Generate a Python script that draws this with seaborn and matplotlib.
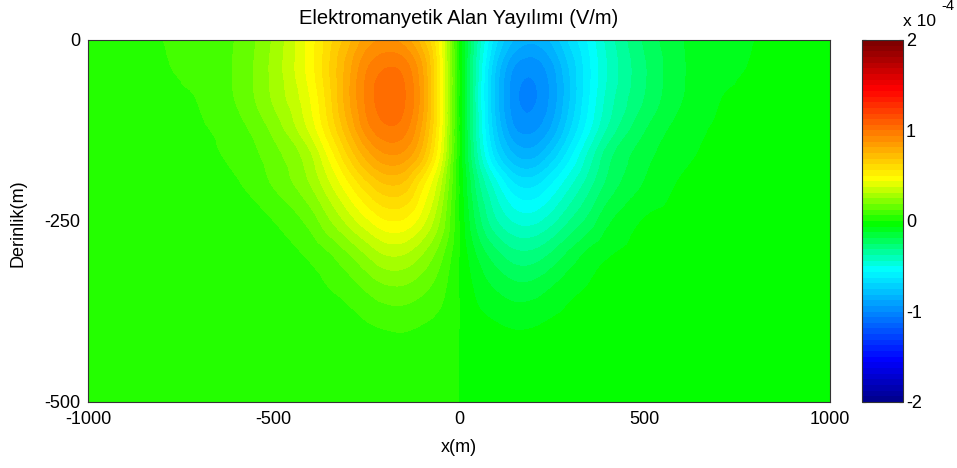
import numpy as np
import matplotlib
matplotlib.use("Agg")
import matplotlib.pyplot as plt
import matplotlib.tri as mtri
import seaborn as sns
from matplotlib.colors import ListedColormap

# ---------------- data (field values in units of 1e-4 V/m) ----------------
depth = [0, -40, -80, -120, -160, -200, -250, -300, -350, -400, -450, -500]

left_x = [-1000, -900, -800, -700, -600, -500, -400, -350, -300, -250, -200, -150, -100, -50, 0]
right_x = [0, 50, 100, 150, 200, 250, 300, 350, 400, 500, 600, 700, 800, 900, 1000]

# positive lobe (x <= 0), one row per depth
left_vals = [
    [0.030, 0.045, 0.062, 0.085, 0.130, 0.260, 0.470, 0.600, 0.720, 0.840, 0.880, 0.850, 0.710, 0.450, 0.0],
    [0.028, 0.042, 0.058, 0.080, 0.135, 0.270, 0.470, 0.620, 0.780, 0.930, 1.000, 0.980, 0.820, 0.480, 0.0],
    [0.025, 0.035, 0.048, 0.066, 0.130, 0.260, 0.440, 0.600, 0.790, 0.950, 1.040, 1.010, 0.840, 0.480, 0.0],
    [0.020, 0.028, 0.040, 0.055, 0.100, 0.210, 0.400, 0.560, 0.740, 0.910, 0.990, 0.970, 0.800, 0.470, 0.0],
    [0.015, 0.020, 0.030, 0.045, 0.080, 0.160, 0.300, 0.450, 0.620, 0.770, 0.860, 0.850, 0.710, 0.420, 0.0],
    [0.010, 0.015, 0.022, 0.035, 0.055, 0.130, 0.250, 0.360, 0.480, 0.600, 0.680, 0.670, 0.520, 0.320, 0.0],
    [0.008, 0.012, 0.016, 0.024, 0.038, 0.062, 0.150, 0.240, 0.330, 0.420, 0.490, 0.490, 0.400, 0.240, 0.0],
    [0.006, 0.008, 0.011, 0.016, 0.024, 0.038, 0.070, 0.110, 0.170, 0.240, 0.300, 0.300, 0.240, 0.140, 0.0],
    [0.004, 0.005, 0.007, 0.010, 0.014, 0.022, 0.038, 0.055, 0.080, 0.120, 0.155, 0.160, 0.130, 0.080, 0.0],
    [0.003, 0.004, 0.005, 0.006, 0.009, 0.013, 0.020, 0.028, 0.038, 0.050, 0.062, 0.066, 0.055, 0.035, 0.0],
    [0.002, 0.003, 0.004, 0.005, 0.006, 0.008, 0.012, 0.016, 0.020, 0.026, 0.032, 0.034, 0.028, 0.018, 0.0],
    [0.002, 0.002, 0.003, 0.004, 0.005, 0.006, 0.008, 0.010, 0.013, 0.016, 0.019, 0.020, 0.017, 0.011, 0.0],
]

# negative lobe (x >= 0), one row per depth
right_vals = [
    [0.0, -0.380, -0.670, -0.820, -0.860, -0.800, -0.670, -0.550, -0.420, -0.240, -0.130, -0.085, -0.062, -0.045, -0.030],
    [0.0, -0.420, -0.760, -0.950, -0.980, -0.900, -0.740, -0.580, -0.440, -0.260, -0.135, -0.080, -0.058, -0.042, -0.028],
    [0.0, -0.430, -0.780, -0.980, -1.010, -0.920, -0.750, -0.570, -0.420, -0.250, -0.130, -0.066, -0.048, -0.035, -0.025],
    [0.0, -0.420, -0.750, -0.940, -0.960, -0.870, -0.700, -0.530, -0.380, -0.200, -0.100, -0.055, -0.040, -0.028, -0.020],
    [0.0, -0.380, -0.660, -0.810, -0.830, -0.730, -0.580, -0.420, -0.280, -0.150, -0.080, -0.045, -0.030, -0.020, -0.015],
    [0.0, -0.290, -0.480, -0.620, -0.640, -0.560, -0.450, -0.340, -0.235, -0.120, -0.055, -0.035, -0.022, -0.015, -0.010],
    [0.0, -0.220, -0.370, -0.450, -0.460, -0.400, -0.310, -0.230, -0.140, -0.058, -0.036, -0.024, -0.016, -0.012, -0.008],
    [0.0, -0.130, -0.220, -0.280, -0.280, -0.230, -0.160, -0.100, -0.066, -0.036, -0.023, -0.016, -0.011, -0.008, -0.006],
    [0.0, -0.075, -0.120, -0.150, -0.145, -0.110, -0.075, -0.052, -0.036, -0.021, -0.014, -0.010, -0.007, -0.005, -0.004],
    [0.0, -0.033, -0.052, -0.063, -0.060, -0.047, -0.036, -0.027, -0.019, -0.012, -0.009, -0.006, -0.005, -0.004, -0.003],
    [0.0, -0.017, -0.027, -0.032, -0.031, -0.025, -0.019, -0.015, -0.011, -0.008, -0.006, -0.005, -0.004, -0.003, -0.002],
    [0.0, -0.010, -0.016, -0.019, -0.018, -0.015, -0.012, -0.009, -0.007, -0.005, -0.004, -0.004, -0.003, -0.002, -0.002],
]

x_ticks = [-1000, -500, 0, 500, 1000]
y_ticks = [0, -250, -500]
cb_ticks = [-2, -1, 0, 1, 2]

title = "Elektromanyetik Alan Yayılımı (V/m)"
xlabel = "x(m)"
ylabel = "Derinlik(m)"

# ---------------- style ----------------
sns.set_theme(style="white")
plt.rcParams["font.family"] = ["Liberation Sans", "DejaVu Sans"]
plt.rcParams["axes.linewidth"] = 0.8
plt.rcParams["text.color"] = "black"
FS = 13

anchors = [(0, 0, 0.5), (0, 0, 1), (0, 0.5, 1), (0, 1, 1), (0, 1, 0),
           (1, 1, 0), (1, 0.5, 0), (1, 0, 0), (0.5, 0, 0)]
cont = sns.blend_palette(anchors, n_colors=256, as_cmap=True)
cmap = ListedColormap([cont((i + 1) / 64) for i in range(64)])

# ---------------- figure ----------------
W, H = 957, 468
fig = plt.figure(figsize=(W / 100, H / 100), dpi=100)
fig.patch.set_facecolor("white")
ax = fig.add_axes([88 / W, (H - 402) / H, 742 / W, 362 / H])

X = np.array(left_x + right_x[1:], dtype=float)
Y = np.array(depth, dtype=float)
Z = np.array([l + r[1:] for l, r in zip(left_vals, right_vals)]) * 1e-4

Xg, Yg = np.meshgrid(X, Y)
tri = mtri.Triangulation(Xg.ravel(), Yg.ravel())
interp = mtri.CubicTriInterpolator(tri, Z.ravel(), kind="geom")
tri_r, z_r = mtri.UniformTriRefiner(tri).refine_field(Z.ravel(), triinterpolator=interp, subdiv=3)

levels = np.linspace(-2e-4, 2e-4, 65)
cs = ax.tricontourf(tri_r, np.clip(z_r, -1.999e-4, 1.999e-4), levels=levels, cmap=cmap,
                    antialiased=False)

ax.set_xlim(-1000, 1000)
ax.set_ylim(-500, 0)
ax.set_xticks(x_ticks)
ax.set_yticks(y_ticks)
ax.set_xticklabels([str(v) for v in x_ticks])
ax.set_yticklabels([str(v) for v in y_ticks])
ax.tick_params(axis="x", length=0, labelsize=FS, colors="black", pad=6.5)
ax.tick_params(axis="y", length=0, labelsize=FS, colors="black", pad=5.5)
for s in ax.spines.values():
    s.set_color("#333333")
    s.set_visible(True)

fig.text(459 / W, 1 - 18 / H, title, fontsize=FS + 1.5, ha="center", va="center", color="black")
fig.text(459 / W, 1 - 448 / H, xlabel, fontsize=FS, ha="center", va="center", color="black")
fig.text(18 / W, 1 - 223 / H, ylabel, fontsize=FS, ha="center", va="center", rotation=90,
         color="black")

cax = fig.add_axes([862 / W, (H - 402) / H, 41 / W, 362 / H])
cb = fig.colorbar(cs, cax=cax, ticks=[t * 1e-4 for t in cb_ticks])
cb.ax.set_yticklabels([str(t) for t in cb_ticks])
cb.ax.tick_params(direction="in", length=3, width=0.8, labelsize=FS, colors="black",
                  left=True, right=True, pad=2)
cb.outline.set_edgecolor("#333333")
cb.outline.set_linewidth(0.8)

fig.text(903 / W, 1 - 21 / H, "x 10", fontsize=FS - 0.5, ha="left", va="center", color="black")
fig.text(941 / W, 1 - 6 / H, "-4", fontsize=FS - 2.5, ha="left", va="center", color="black")

fig.savefig("out.png", dpi=100)
